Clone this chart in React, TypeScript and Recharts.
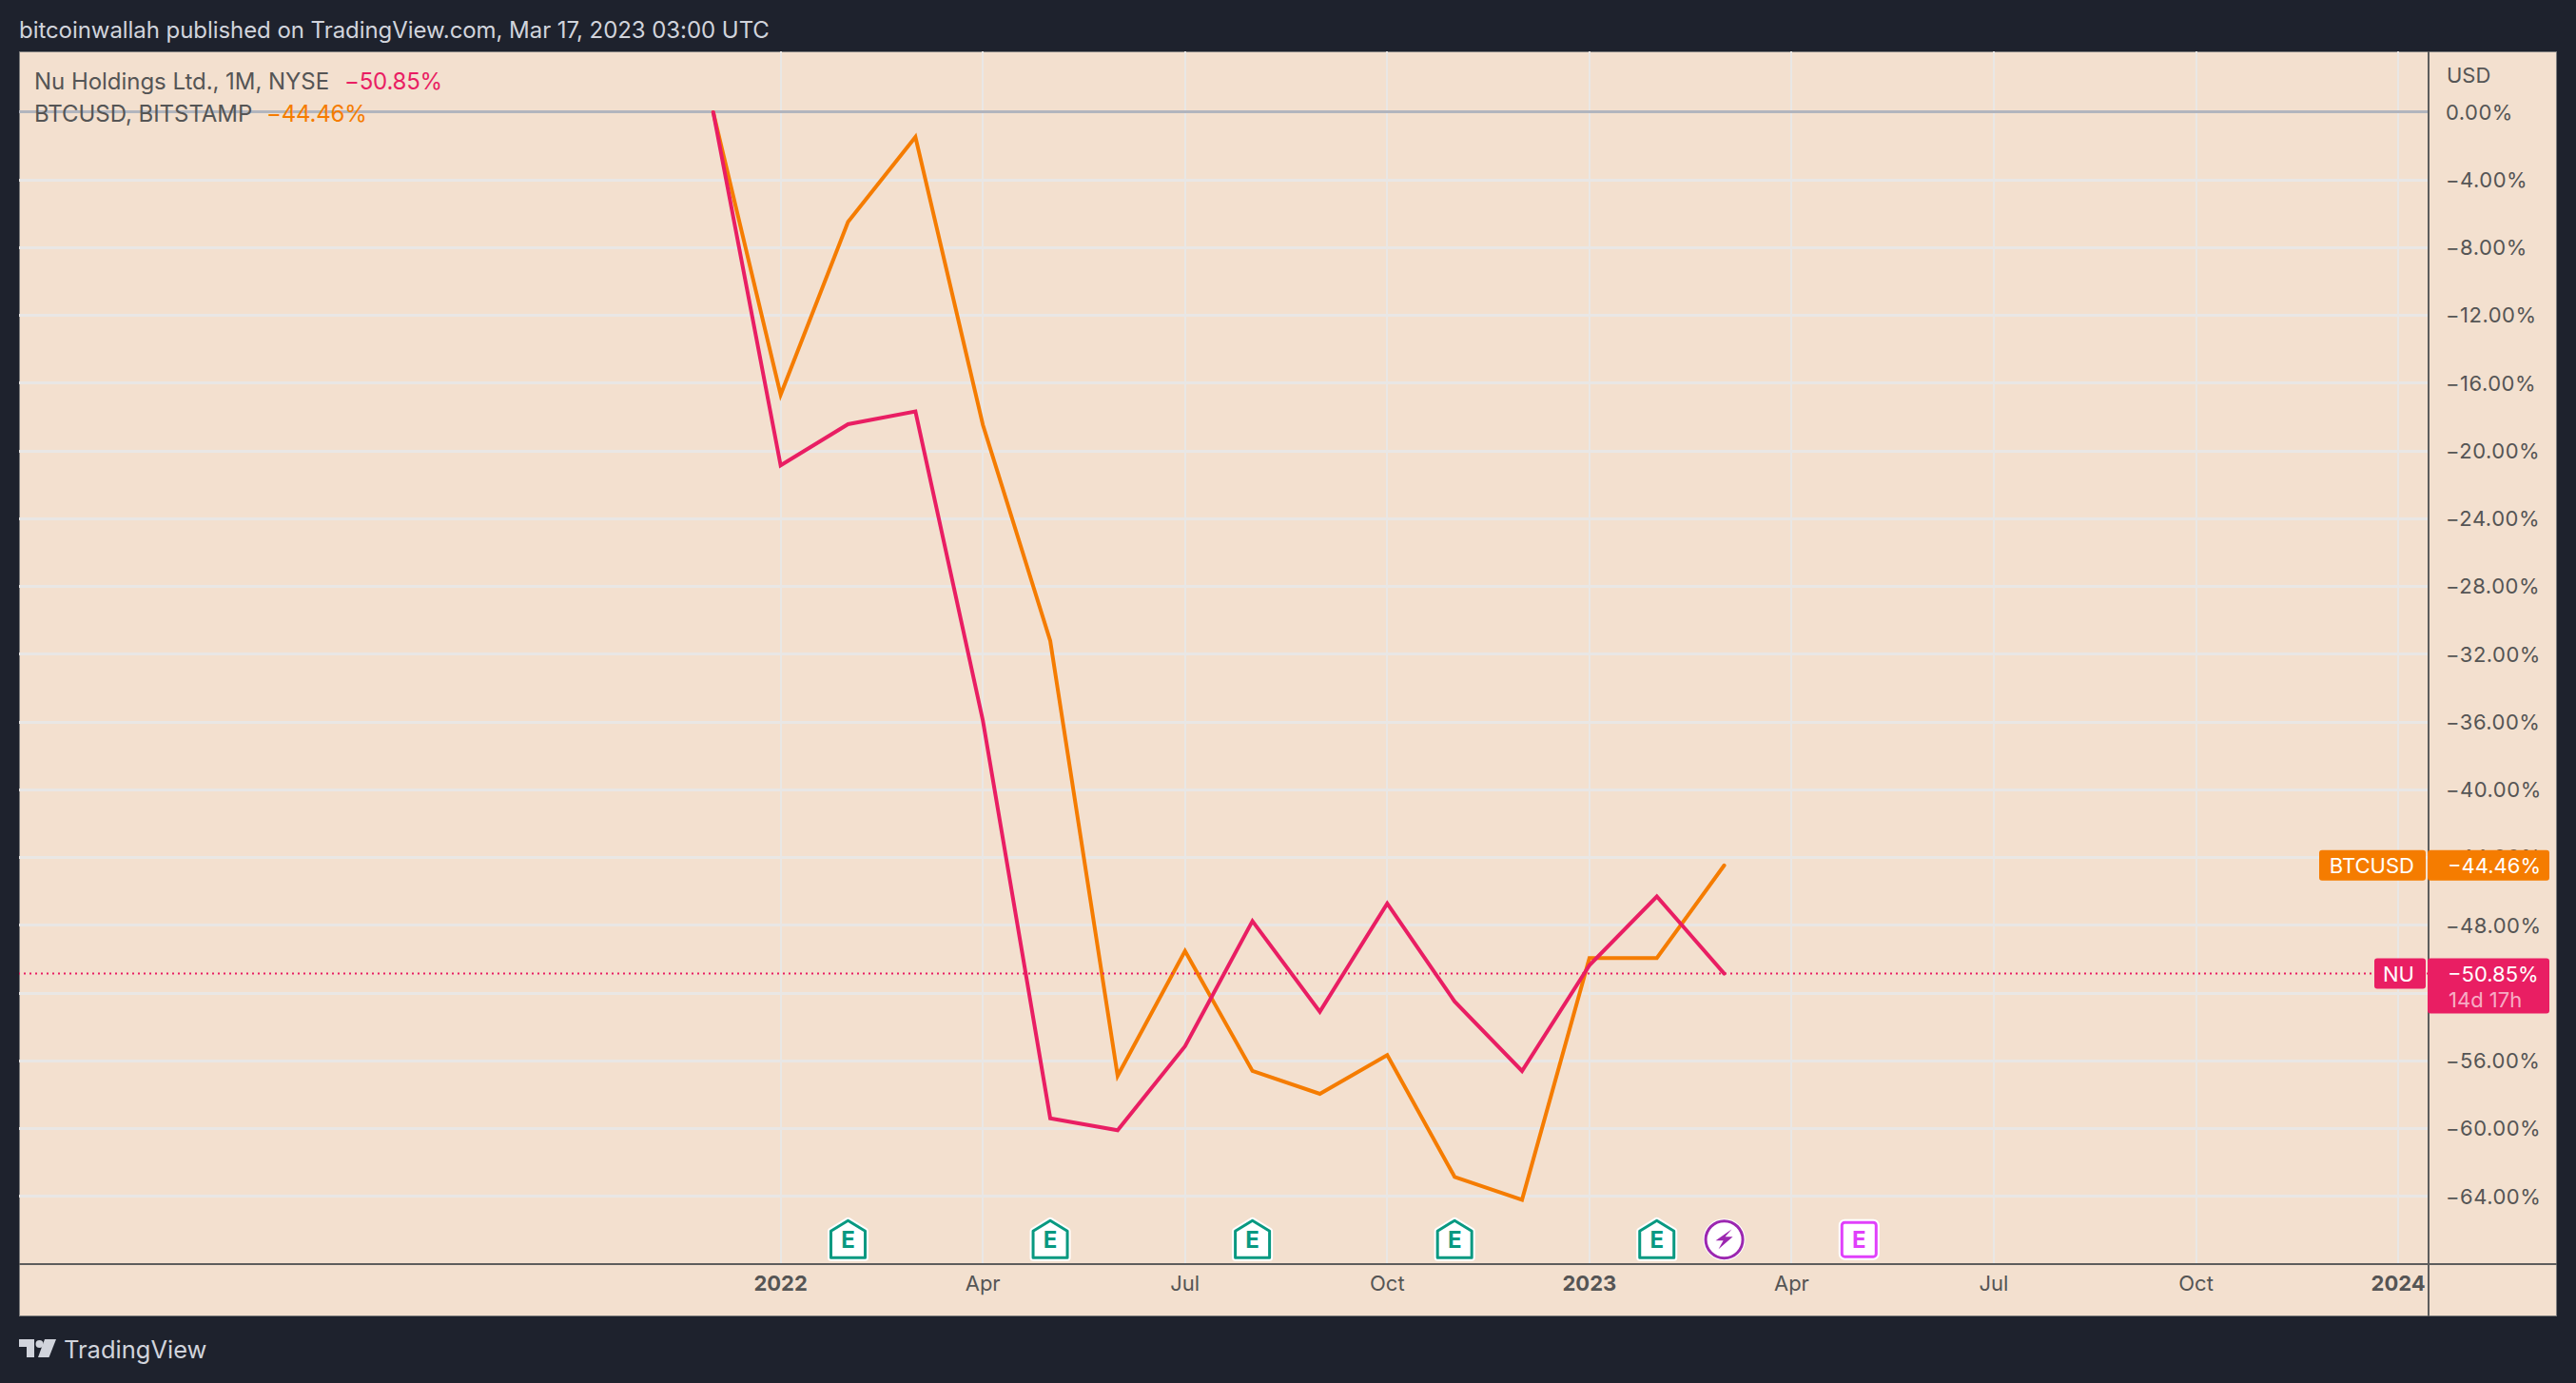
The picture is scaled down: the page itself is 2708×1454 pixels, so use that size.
import { ComposedChart, Line, XAxis, YAxis, CartesianGrid, ReferenceLine, ReferenceDot } from 'recharts';

const FONT = 'Inter, "Noto Sans", sans-serif';
const DARK = '#1e222d';
const PANE = '#f3e0cf';
const GRID = '#e9e7e5';
const AXIS = '#5d5d5d';
const TEXT = '#555555';
const PINK = '#e91e63';
const ORANGE = '#f57c00';
const TEAL = '#089981';

// months counted from Jan 2022
const months = [-1, 0, 1, 2, 3, 4, 5, 6, 7, 8, 9, 10, 11, 12, 13, 14];
const nuValues = [0, -20.85, -18.42, -17.67, -35.9, -59.39, -60.1, -55.14, -47.75, -53.1, -46.71, -52.5, -56.6, -50.36, -46.3, -50.85];
const btcValues = [0, -16.68, -6.48, -1.46, -18.45, -31.2, -56.88, -49.52, -56.6, -57.95, -55.66, -62.85, -64.2, -49.93, -49.93, -44.46];

const xTicks = [0, 3, 6, 9, 12, 15, 18, 21, 24];
const xLabels = ['2022', 'Apr', 'Jul', 'Oct', '2023', 'Apr', 'Jul', 'Oct', '2024'];
const yTicks = [0, -4, -8, -12, -16, -20, -24, -28, -32, -36, -40, -44, -48, -52, -56, -60, -64];

const earningsMonths = [1, 4, 7, 10, 13];
const dividendMonths = [14];
const futureEarningsMonths = [16];
const eventLevel = -66.55;

const chartData = months.map((m, i) => ({ x: m, nu: nuValues[i], btc: btcValues[i] }));

const formatPct = (v: number) => `${v < 0 ? '−' : ''}${Math.abs(v).toFixed(2)}%`;

const XTick = ({ x, y, payload }: any) => {
  const label = xLabels[xTicks.indexOf(payload.value)];
  const isYear = label.length === 4;
  return (
    <text x={x} y={y + 20} textAnchor="middle" fontFamily={FONT} fontSize={22} fontWeight={isYear ? 700 : 400} fill={TEXT}>
      {label}
    </text>
  );
};

const EarningsMark = ({ cx, cy }: any) => (
  <g>
    <path d={`M${cx} ${cy - 20} L${cx + 18} ${cy - 9} V${cy + 19} H${cx - 18} V${cy - 9} Z`} fill="#fff" stroke="#fff" strokeWidth={7} strokeLinejoin="round" />
    <path d={`M${cx} ${cy - 20} L${cx + 18} ${cy - 9} V${cy + 19} H${cx - 18} V${cy - 9} Z`} fill="#fff" stroke={TEAL} strokeWidth={3} strokeLinejoin="round" />
    <text x={cx} y={cy + 9} textAnchor="middle" fontFamily={FONT} fontSize={24} fontWeight={700} fill={TEAL}>E</text>
  </g>
);

const FutureMark = ({ cx, cy }: any) => (
  <g>
    <rect x={cx - 18} y={cy - 18} width={36} height={36} rx={3} fill="#fff" stroke="#fff" strokeWidth={7} />
    <rect x={cx - 18} y={cy - 18} width={36} height={36} rx={3} fill="#fff" stroke="#e040fb" strokeWidth={3} />
    <text x={cx} y={cy + 9} textAnchor="middle" fontFamily={FONT} fontSize={24} fontWeight={700} fill="#e040fb">E</text>
  </g>
);

const SplitMark = ({ cx, cy }: any) => (
  <g>
    <circle cx={cx} cy={cy} r={20} fill="#fff" stroke="#fff" strokeWidth={4} />
    <circle cx={cx} cy={cy} r={19.5} fill="#fff" stroke="#9c27b0" strokeWidth={3} />
    <path
      d={`M${cx + 8} ${cy - 11} L${cx - 9} ${cy + 1} H${cx - 1} L${cx - 6} ${cy + 10} L${cx + 9} ${cy - 3} H${cx + 1} Z`}
      fill="#9c27b0"
    />
  </g>
);

// tag pair sitting across the price axis
const PriceTag = ({ viewBox, name, value, color, nameWidth, extra }: any) => {
  const axisX = viewBox.x + viewBox.width;
  const y = viewBox.y;
  const textProps = { fontFamily: FONT, fontSize: 22, dominantBaseline: 'central' as const };
  return (
    <g>
      <rect x={axisX - 3 - nameWidth} y={y - 16} width={nameWidth} height={32} rx={3} fill={color} />
      <rect x={axisX - 1} y={y - 16} width={128} height={extra ? 58 : 32} rx={3} fill={color} />
      <text x={axisX - 15} y={y} textAnchor="end" fill="#fff" {...textProps}>{name}</text>
      <text x={axisX + 20} y={y} fill="#fff" {...textProps}>{value}</text>
      {extra && <text x={axisX + 21} y={y + 27} fill="#fff" fillOpacity={0.65} {...textProps}>{extra}</text>}
    </g>
  );
};

const hLine = (left: number, top: number, width: number, height: number, color: string) => (
  <div style={{ position: 'absolute', left, top, width, height, background: color }} />
);

const LegendRow = ({ top, name, value, color, valueLeft }: any) => (
  <>
    <div style={{ position: 'absolute', left: 36, top, lineHeight: '30px', fontSize: 24, letterSpacing: -0.04, color: TEXT, zIndex: 3, whiteSpace: 'nowrap' }}>{name}</div>
    <div style={{ position: 'absolute', left: valueLeft, top, lineHeight: '30px', fontSize: 24, letterSpacing: -0.2, color, zIndex: 3, whiteSpace: 'nowrap' }}>{value}</div>
  </>
);

export default function App() {
  return (
    <div style={{ position: 'absolute', left: 0, top: 0, width: 2708, height: 1454, background: DARK, overflow: 'hidden', fontFamily: FONT }}>
      <div style={{ position: 'absolute', left: 20, top: 16, lineHeight: '32px', fontSize: 24, letterSpacing: -0.06, color: '#d1d4dc', whiteSpace: 'nowrap' }}>
        bitcoinwallah published on TradingView.com, Mar 17, 2023 03:00 UTC
      </div>

      <div style={{ position: 'absolute', left: 20, top: 54, width: 2668, height: 1330, background: PANE, boxShadow: 'inset 0 0 0 1px #7d7d7d' }} />
      {hLine(2552, 1329, 2, 55, AXIS)}
      {hLine(2553, 1328, 135, 2, AXIS)}

      <LegendRow top={71} name="Nu Holdings Ltd., 1M, NYSE" value={formatPct(-50.85)} color={PINK} valueLeft={362} />
      <LegendRow top={105} name="BTCUSD, BITSTAMP" value={formatPct(-44.46)} color={ORANGE} valueLeft={280} />
      <div style={{ position: 'absolute', left: 2572, top: 64, lineHeight: '30px', fontSize: 22, color: TEXT }}>USD</div>

      <div style={{ position: 'absolute', left: 0, top: 0 }}>
        <ComposedChart width={2708} height={1454} data={chartData} margin={{ top: 54, right: 20, bottom: 70, left: 20 }}>
          <CartesianGrid stroke={GRID} strokeWidth={3} vertical={false} horizontalValues={yTicks} shapeRendering="crispEdges" />
          <CartesianGrid stroke={GRID} strokeWidth={2} horizontal={false} verticalValues={xTicks} shapeRendering="crispEdges" />
          <XAxis
            type="number"
            dataKey="x"
            domain={[-11.3, 24.45]}
            ticks={xTicks}
            interval={0}
            height={55}
            axisLine={{ stroke: AXIS, strokeWidth: 2 }}
            tickLine={false}
            tick={<XTick />}
            allowDataOverflow
          />
          <YAxis
            orientation="right"
            width={135}
            domain={[-68, 3.59]}
            ticks={yTicks}
            interval={0}
            axisLine={{ stroke: AXIS, strokeWidth: 2 }}
            tickLine={false}
            tickMargin={12}
            tickFormatter={formatPct}
            tick={{ fontFamily: FONT, fontSize: 22, fill: TEXT, letterSpacing: 0.5 }}
            allowDataOverflow
          />
          <ReferenceLine y={0} stroke="#b2b5be" strokeWidth={3} shapeRendering="crispEdges" />
          <Line dataKey="btc" stroke={ORANGE} strokeWidth={4} strokeLinecap="round" dot={false} isAnimationActive={false} />
          <Line dataKey="nu" stroke={PINK} strokeWidth={4} strokeLinecap="round" dot={false} isAnimationActive={false} />
          {earningsMonths.map((m) => (
            <ReferenceDot key={m} x={m} y={eventLevel} shape={<EarningsMark />} />
          ))}
          {dividendMonths.map((m) => (
            <ReferenceDot key={m} x={m} y={eventLevel} shape={<SplitMark />} />
          ))}
          {futureEarningsMonths.map((m) => (
            <ReferenceDot key={m} x={m} y={eventLevel} shape={<FutureMark />} />
          ))}
          <ReferenceLine
            y={-44.46}
            stroke="none"
            zIndex={2000}
            label={(p: any) => <PriceTag viewBox={p.viewBox} name="BTCUSD" value={formatPct(-44.46)} color={ORANGE} nameWidth={112} />}
          />
          <ReferenceLine
            y={-50.85}
            stroke={PINK}
            strokeWidth={2}
            strokeDasharray="2 4"
            zIndex={2000}
            label={(p: any) => <PriceTag viewBox={p.viewBox} name="NU" value={formatPct(-50.85)} color={PINK} nameWidth={54} extra="14d 17h" />}
          />
        </ComposedChart>
      </div>

      <svg style={{ position: 'absolute', left: 20, top: 1408 }} width={40} height={20} viewBox="0 0 40 20">
        <path d="M0 0H16V19H8V8H0Z" fill="#d1d4dc" />
        <circle cx={21.5} cy={5} r={4} fill="#d1d4dc" />
        <path d="M27 0H39L31.5 19H20Z" fill="#d1d4dc" />
      </svg>
      <div style={{ position: 'absolute', left: 67, top: 1403, lineHeight: '32px', fontSize: 25.5, color: '#d1d4dc' }}>TradingView</div>
    </div>
  );
}
